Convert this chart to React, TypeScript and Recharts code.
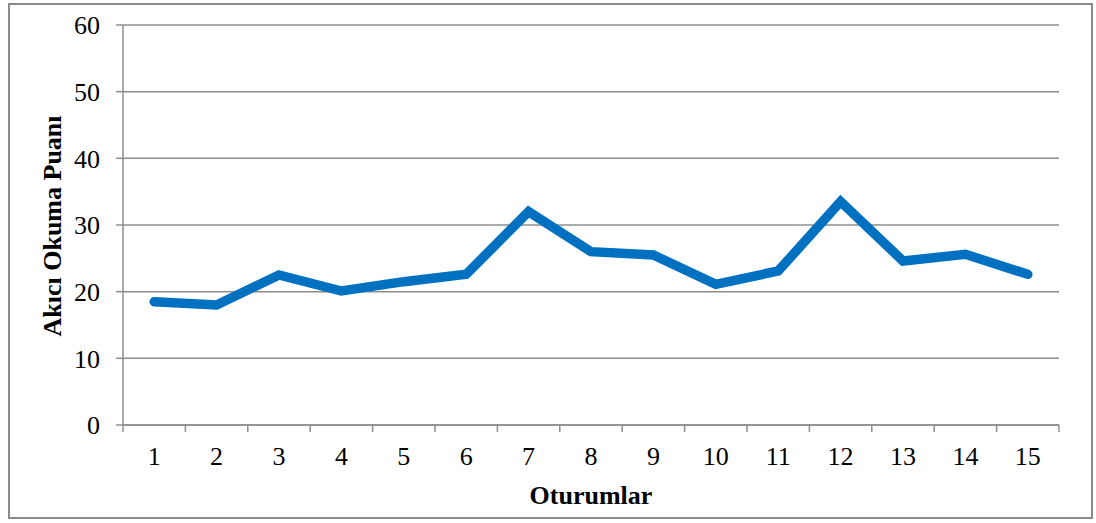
import { LineChart, Line, XAxis, YAxis, CartesianGrid, Label } from "recharts";

const sessions = [1, 2, 3, 4, 5, 6, 7, 8, 9, 10, 11, 12, 13, 14, 15];
const scores = [18.5, 18.0, 22.5, 20.1, 21.5, 22.6, 32.0, 26.0, 25.5, 21.1, 23.1, 33.5, 24.6, 25.6, 22.6];
const yTicks = [0, 10, 20, 30, 40, 50, 60];
// tick marks sit on category boundaries, labels on category centers
const xTicks = [0.5, ...sessions.flatMap((s) => [s, s + 0.5])];

const data = sessions.map((s, i) => ({ session: s, score: scores[i] }));

const GRID = "#8e8e8e";
const FONT = "'Liberation Serif', 'Times New Roman', serif";

const XTick = (props: any) => {
  const { x, y, payload } = props;
  const v = payload.value as number;
  if (!Number.isInteger(v)) {
    return <line x1={x} x2={x} y1={y} y2={y + 7} stroke={GRID} strokeWidth={1.5} />;
  }
  return (
    <text x={x} y={y + 40} textAnchor="middle" fontFamily={FONT} fontSize={26} fill="#000">
      {v}
    </text>
  );
};

export default function App() {
  return (
    <div style={{ position: "absolute", left: 0, top: 0, width: 1096, height: 523, background: "#fff" }}>
      <div
        style={{
          position: "absolute",
          left: 8,
          top: 3,
          width: 1085,
          height: 516,
          border: "2px solid #8a8a8a",
          boxSizing: "border-box",
        }}
      />
      <div style={{ position: "absolute", left: 0, top: 0 }}>
        <LineChart width={1096} height={523} data={data} margin={{ top: 25, right: 37, left: 0, bottom: 0 }}>
          <CartesianGrid vertical={false} stroke={GRID} strokeWidth={1.5} />
          <XAxis
            dataKey="session"
            type="number"
            domain={[0.5, 15.5]}
            ticks={xTicks}
            interval={0}
            height={98}
            tickSize={0}
            tickMargin={0}
            tickLine={false}
            axisLine={{ stroke: GRID, strokeWidth: 1.5 }}
            tick={<XTick />}
          >
            <Label
              content={() => (
                <text x={591} y={504} textAnchor="middle" fontFamily={FONT} fontSize={26} fontWeight="bold" fill="#000">
                  Oturumlar
                </text>
              )}
            />
          </XAxis>
          <YAxis
            domain={[0, 60]}
            ticks={yTicks}
            interval={0}
            width={123}
            tickSize={7}
            tickMargin={16}
            tickLine={{ stroke: GRID, strokeWidth: 1.5 }}
            axisLine={{ stroke: GRID, strokeWidth: 1.5 }}
            tick={{ fontFamily: FONT, fontSize: 26, fill: "#000" }}
          >
            <Label
              content={() => (
                <text
                  x={61}
                  y={226}
                  transform="rotate(-90 61 226)"
                  textAnchor="middle"
                  fontFamily={FONT}
                  fontSize={26}
                  fontWeight="bold"
                  fill="#000"
                >
                  Akıcı Okuma Puanı
                </text>
              )}
            />
          </YAxis>
          <Line
            dataKey="score"
            stroke="#0070C0"
            strokeWidth={9.5}
            strokeLinecap="round"
            dot={false}
            activeDot={false}
            isAnimationActive={false}
          />
        </LineChart>
      </div>
    </div>
  );
}
